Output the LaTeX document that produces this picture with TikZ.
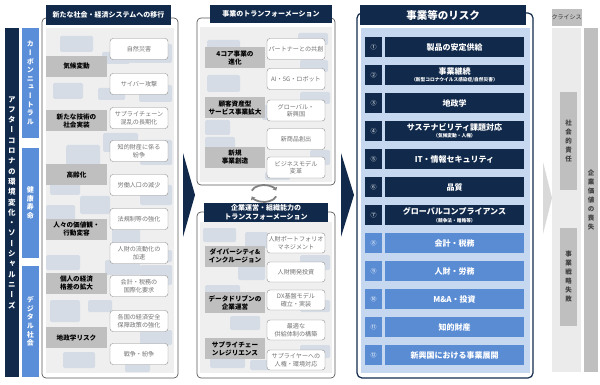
\documentclass[tikz,border=0pt]{standalone}
\usepackage{fontspec}
\setmainfont{Noto Sans CJK JP}
\newfontfamily\jpv[RawFeature=+vert]{Noto Sans CJK JP}
\usetikzlibrary{positioning,arrows.meta,calc}
\definecolor{navy}{HTML}{112A4B}
\definecolor{riskblue}{HTML}{5A8CD4}
\definecolor{barblue}{HTML}{5B8ED8}
\definecolor{paleblue}{HTML}{C6D8F0}
\definecolor{brickgray}{HTML}{D5DCE5}
\definecolor{lblgray}{HTML}{BFBFBF}
\definecolor{panelgray}{HTML}{EFEFEF}
\newcommand\subtxt[1]{{\fontsize{4.7}{5.2}\selectfont #1}}

\begin{document}
\begin{tikzpicture}[x=1pt, y=-1pt,
  panelframe/.style={draw=black!65, line width=0.7pt, rounded corners=4pt},
  paneltitle/.style={fill=navy, text=white, inner sep=0, align=center,
    font=\bfseries\fontsize{7}{8.5}\selectfont},
  brick/.style={fill=brickgray, rounded corners=1.5pt},
  lbl/.style={fill=lblgray, minimum width=61pt, minimum height=21pt, inner sep=0,
    align=center, font=\bfseries\fontsize{6.6}{8}\selectfont},
  wbox/.style={draw=black!45, fill=white, rounded corners=3pt, minimum width=58pt,
    minimum height=21pt, inner sep=0, align=center, text=black!55,
    font=\fontsize{6.1}{7.6}\selectfont},
  vbar/.style={inner sep=0, align=center, text=white,
    font=\jpv\bfseries\fontsize{7}{8.6}\selectfont},
  riskno/.style={fill=navy, minimum width=17pt, minimum height=20pt, inner sep=0,
    text=white, font=\fontsize{6}{7}\selectfont},
  riskbar/.style={fill=navy, minimum width=139pt, minimum height=20pt, inner sep=0,
    align=center, text=white, font=\bfseries\fontsize{8}{7.5}\selectfont},
  chevron/.style={fill=navy},
  cycarrow/.style={draw=black!50, line width=1.8pt, -{Triangle[length=3pt,width=5pt]}}]
\useasboundingbox (0,0) rectangle (600,385);

% Left bars
\node[fill=navy, minimum width=14pt, minimum height=349pt, vbar,
  font=\jpv\bfseries\fontsize{7.5}{10.3}\selectfont] (env) at (12,202.5)
  {ア\\フ\\タ\\ー\\コ\\ロ\\ナ\\の\\環\\境\\変\\化\\・\\ソ\\ー\\シ\\ャ\\ル\\ニ\\ー\\ズ};
\node[fill=barblue, minimum width=17pt, minimum height=110pt, vbar] (carbon) at (30.5,83)
  {カ\\ー\\ボ\\ン\\ニ\\ュ\\ー\\ト\\ラ\\ル};
\node[fill=barblue, minimum width=17pt, minimum height=110pt, vbar] (health) at (30.5,203)
  {健\\康\\寿\\命};
\node[fill=barblue, minimum width=17pt, minimum height=111pt, vbar] (digital) at (30.5,321.5)
  {デ\\ジ\\タ\\ル\\社\\会};

% Panel 1
\draw[panelframe] (42,18) rectangle (178,378);
\fill[panelgray] (46,28) rectangle (174,373);
\foreach \xa/\ya/\xb/\yb in {60/36/93/52, 102/52/130/64, 128/44/172/63, 53/83/83/99,
    98/88/125/100, 139/85/172/102, 66/145/100/165, 103/133/138/152, 140/140/172/165,
    50/178/80/195, 80/196/110/214, 140/185/172/205, 46/205/75/225, 112/228/140/246,
    140/250/172/262, 46/255/80/270, 105/260/140/275, 140/265/172/285, 50/300/80/322,
    88/300/112/312, 140/330/172/345, 63/352/95/368, 125/362/150/372}
  \fill[brick] (\xa,\ya) rectangle (\xb,\yb);
\node[paneltitle, minimum width=125pt, minimum height=20pt] (t1) at (108.5,15)
  {新たな社会・経済システムへの移行};
\foreach \y/\t [count=\i] in {66.5/気候変動, 121/{新たな技術の\\社会実装}, 174.5/高齢化,
    229.5/{人々の価値観・\\行動変容}, 283/{個人の経済\\格差の拡大}, 337.5/地政学リスク}
  \node[lbl] (a\i) at (76.5,\y) {\t};
\foreach \y/\t [count=\i] in {49/自然災害, 84/サイバー攻撃, 118/{サプライチェーン\\混乱の長期化},
    151/{知的財産に係る\\紛争}, 185/労働人口の減少, 219/法規制等の強化, 253/{人財の流動化の\\加速},
    286/{会計・税務の\\国際化要求}, 321/{各国の経済安全\\保障政策の強化}, 354/戦争・紛争}
  \node[wbox] (b\i) at (139,\y) {\t};

% Panel 2
\draw[panelframe] (197,18) rectangle (335,185);
\fill[panelgray] (200,27) rectangle (332,182);
\foreach \xa/\ya/\xb/\yb in {207/40/240/52, 207/75/240/92, 298/33/328/45, 300/60/328/72,
    205/120/230/135, 205/137/235/148, 300/92/330/104, 262/105/290/120, 310/150/330/165,
    265/172/290/180}
  \fill[brick] (\xa,\ya) rectangle (\xb,\yb);
\node[paneltitle, minimum width=122pt, minimum height=18pt] (t2) at (271,14)
  {事業のトランフォーメーション};
\foreach \y/\t [count=\i] in {57.5/{4コア事業の\\進化}, 107.5/{顧客資産型\\サービス事業拡大},
    157.5/{新規\\事業創造}}
  \node[lbl, minimum width=60pt] (c\i) at (235,\y) {\t};
\foreach \y/\t [count=\i] in {49/パートナーとの共創, 79/AI・5G・ロボット, 110.5/{グローバル・\\新興国},
    139/新商品創出, 167.5/{ビジネスモデル\\変革}}
  \node[wbox] (d\i) at (296,\y) {\t};

% Cycle between panel 2 and 3
\coordinate (cyc) at (264,193.5);
\draw[cycarrow] ($(cyc)+(20:13 and 8.5)$) arc[start angle=20, end angle=160, x radius=13, y radius=8.5];
\draw[cycarrow] ($(cyc)+(200:13 and 8.5)$) arc[start angle=200, end angle=340, x radius=13, y radius=8.5];

% Panel 3
\draw[panelframe] (197,212) rectangle (335,378);
\fill[panelgray] (200,222) rectangle (332,373);
\foreach \xa/\ya/\xb/\yb in {203/228/236/242, 245/232/268/248, 238/265/265/280,
    205/285/240/298, 300/255/330/270, 230/316/260/330, 300/300/330/312,
    210/350/245/368, 300/345/330/358, 250/360/270/370}
  \fill[brick] (\xa,\ya) rectangle (\xb,\yb);
\node[paneltitle, minimum width=124pt, minimum height=19pt] (t3) at (266,212.5)
  {企業運営・組織能力の\\トランスフォーメーション};
\foreach \y/\t [count=\i] in {256/{ダイバーシティ\&\\インクルージョン}, 302.5/{データドリブンの\\企業運営},
    348.5/{サプライチェー\\ンレジリエンス}}
  \node[lbl, minimum width=60pt] (e\i) at (235,\y) {\t};
\foreach \y/\t [count=\i] in {243/{人財ポートフォリオ\\マネジメント}, 272/人財開発投資,
    300/{DX基盤モデル\\確立・実装}, 330/{最適な\\供給体制の構築}, 360/{サプライヤーへの\\人権・環境対応}}
  \node[wbox, minimum height=20pt] (f\i) at (296,\y) {\t};

% Chevrons
\fill[chevron] (183,153) -- (195,195) -- (183,237) -- cycle;
\fill[chevron] (341,153) -- (354,195) -- (341,237) -- cycle;
\fill[black!15] (543,162) -- (552,198) -- (543,234) -- cycle;

% Panel 4: risks
\draw[navy, line width=1.2pt, rounded corners=5pt] (357,13) rectangle (533,378);
\fill[paleblue] (361,28) rectangle (530,373);
\node[paneltitle, font=\bfseries\fontsize{10.5}{12}\selectfont, minimum width=166pt,
  minimum height=20pt] (t4) at (443,15) {事業等のリスク};
\foreach \n/\t [count=\i] in {①/製品の安定供給,
    ②/{事業継続\\\subtxt{（新型コロナウイルス感染症/自然災害）}}, ③/地政学,
    ④/{サステナビリティ課題対応\\\subtxt{（気候変動・人権）}}, ⑤/IT・情報セキュリティ, ⑥/品質,
    ⑦/{グローバルコンプライアンス\\\subtxt{（競争法・贈賄等）}}}
{
  \node[riskno] (n\i) at (373.5,19+28*\i) {\n};
  \node[riskbar] (r\i) at (454.5,19+28*\i) {\t};
}
\foreach \n/\t [count=\i from 8] in {⑧/会計・税務, ⑨/人財・労務, ⑩/M\&A・投資, ⑪/知的財産,
    ⑫/新興国における事業展開}
{
  \node[riskno, fill=riskblue] (n\i) at (373.5,19+28*\i) {\n};
  \node[riskbar, fill=riskblue] (r\i) at (454.5,19+28*\i) {\t};
}

% Panel 5: crisis
\node[fill=lblgray, minimum width=27pt, minimum height=17pt, inner sep=0, text=black!80,
  font=\fontsize{6}{7}\selectfont] (crisis) at (566.5,17.5) {クライシス};
\node[fill=black!8, minimum width=29pt, minimum height=344pt, inner sep=0] (soft) at (566.5,200) {};
\node[fill=lblgray, minimum width=14pt, minimum height=344pt, vbar, text=black!75,
  font=\jpv\bfseries\fontsize{6.5}{9}\selectfont] (loss) at (591,200)
  {企\\業\\価\\値\\の\\喪\\失};
\node[fill=lblgray, minimum width=17pt, minimum height=98pt, vbar, text=black!75,
  font=\jpv\bfseries\fontsize{6.5}{9}\selectfont] (social) at (568.5,141)
  {社\\会\\的\\責\\任};
\node[fill=lblgray, minimum width=17pt, minimum height=98pt, vbar, text=black!75,
  font=\jpv\bfseries\fontsize{6.5}{9}\selectfont] (strategy) at (568.5,277)
  {事\\業\\戦\\略\\失\\敗};

\end{tikzpicture}
\end{document}
